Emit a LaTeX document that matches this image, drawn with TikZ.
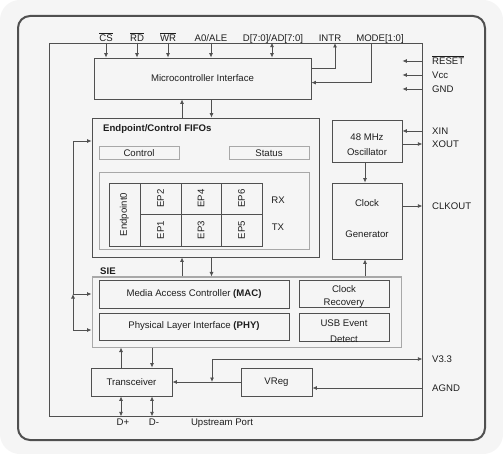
\documentclass[tikz,border=0pt]{standalone}
\usepackage{fontspec}
\usepackage{graphicx}
\setmainfont{Liberation Sans}
\usetikzlibrary{arrows.meta,calc}
\definecolor{ln}{HTML}{505050}
\definecolor{lt}{HTML}{A8A8A8}
\definecolor{bg}{HTML}{F5F5F5}
\definecolor{tx}{HTML}{1E1E1E}
\newcommand{\ovl}[1]{{\setbox0\hbox{#1}\rlap{\rule[\dimexpr\ht0+1pt\relax]{\wd0}{0.5pt}}\box0}}
\begin{document}
\begin{tikzpicture}[x=1pt,y=-1pt,
  every node/.style={font=\fontsize{9.6}{11}\selectfont, text=tx},
  box/.style={draw=ln, line width=0.8pt, inner sep=0pt},
  lbox/.style={draw=lt, line width=1pt, inner sep=0pt},
  arr/.style={draw=ln, line width=0.8pt, -{Latex[length=4.5pt,width=4pt]}},
  darr/.style={draw=ln, line width=0.8pt, {Latex[length=4.5pt,width=4pt]}-{Latex[length=4.5pt,width=4pt]}},
  wire/.style={draw=ln, line width=0.8pt},
  lab/.style={inner sep=0pt, text height=7pt, text depth=0pt},
  rpin/.style={lab, anchor=west}]
\fill[white] (0,0) rectangle (503,454);
\fill[bg, rounded corners=20pt] (0,0) rectangle (503,454);
\useasboundingbox (0,0) rectangle (503,454);
\draw[ln, line width=2pt, rounded corners=12pt] (18,16) rectangle (485,440);

% chip
\node[box, minimum width=373pt, minimum height=373pt] (chip) at (235.5,229.5) {};

% blocks
\node[box, minimum width=217pt, minimum height=41pt] (mcu) at (202.5,78.5) {Microcontroller Interface};
\node[box, minimum width=227pt, minimum height=139pt] (fifo) at (205.5,187.5) {};
\node[lab, anchor=west] (fifot) at (103,128) {\textbf{Endpoint/Control FIFOs}};
\node[lbox, minimum width=80pt, minimum height=13pt] (ctrl) at (139,153.5) {Control};
\node[lbox, minimum width=80pt, minimum height=13pt] (stat) at (269,153.5) {Status};
\node[lbox, minimum width=210pt, minimum height=77pt] (epo) at (204,211.5) {};
\node[box, minimum width=31pt, minimum height=63pt] (ep0) at (124.5,214.5) {\rotatebox{90}{Endpoint0}};
\node[box, minimum width=41pt, minimum height=31pt] (ep2) at (160.5,198.5) {\rotatebox{90}{EP2}};
\node[box, minimum width=41pt, minimum height=32pt] (ep1) at (160.5,230) {\rotatebox{90}{EP1}};
\node[box, minimum width=40pt, minimum height=31pt] (ep4) at (201,198.5) {\rotatebox{90}{EP4}};
\node[box, minimum width=40pt, minimum height=32pt] (ep3) at (201,230) {\rotatebox{90}{EP3}};
\node[box, minimum width=41pt, minimum height=31pt] (ep6) at (241.5,198.5) {\rotatebox{90}{EP6}};
\node[box, minimum width=41pt, minimum height=32pt] (ep5) at (241.5,230) {\rotatebox{90}{EP5}};
\node (rx) at (278,200) {RX};
\node (txl) at (278,227) {TX};

\node[box, minimum width=70pt, minimum height=42pt] (osc) at (367,141) {};
\node[align=center, font=\fontsize{9.6}{15}\selectfont] (osct) at (367,144.5) {48 MHz\\Oscillator};
\node[box, minimum width=70pt, minimum height=76pt] (cg) at (367,221) {};
\node[align=center, font=\fontsize{9.6}{31}\selectfont] (cgt) at (367,218.5) {Clock\\Generator};

\node[lbox, minimum width=309pt, minimum height=70pt] (sie) at (246.5,312) {};
\node[lab, anchor=west] (siet) at (100,271) {\textbf{SIE}};
\node[box, minimum width=190pt, minimum height=28pt] (mac) at (194,294) {Media Access Controller \textbf{(MAC)}};
\node[box, minimum width=190pt, minimum height=27pt] (phy) at (194,326.5) {Physical Layer Interface \textbf{(PHY)}};
\node[box, minimum width=90pt, minimum height=27pt] (crec) at (344,293.5) {};
\node[align=center, font=\fontsize{9.6}{13}\selectfont] (crect) at (344,296.5) {Clock\\Recovery};
\node[box, minimum width=90pt, minimum height=28pt] (usb) at (344,327) {};
\node[align=center, font=\fontsize{9.6}{16}\selectfont] (usbt) at (344,331) {USB Event\\Detect};

\node[box, minimum width=81pt, minimum height=28pt] (trx) at (131.5,382) {Transceiver};
\node[box, minimum width=71pt, minimum height=28pt] (vreg) at (276.5,382) {VReg};

% top pins
\node[lab] (cs) at (106,38) {\ovl{CS}};
\node[lab] (rd) at (137,38) {\ovl{RD}};
\node[lab] (wr) at (168,38) {\ovl{WR}};
\node[lab] (ale) at (211,38) {A0/ALE};
\node[lab] (dat) at (273,38) {D[7:0]/AD[7:0]};
\node[lab] (intr) at (330,38) {INTR};
\node[lab] (mode) at (380,38) {MODE[1:0]};
\draw[arr] (chip.north -| cs) -- (mcu.north -| cs);
\draw[arr] (chip.north -| rd) -- (mcu.north -| rd);
\draw[arr] (chip.north -| wr) -- (mcu.north -| wr);
\draw[arr] (chip.north -| ale) -- (mcu.north -| ale);
\coordinate (dx) at (272,0);
\draw[darr] (chip.north -| dx) -- (mcu.north -| dx);
\coordinate (intrp) at (335,43);
\draw[arr] ([yshift=-11pt]mcu.north east) -| (intrp);
\coordinate (modep) at (371,43);
\draw[arr] (modep) |- ([yshift=-25pt]mcu.north east);

% right pins
\node[rpin] (reset) at (432,61) {\ovl{RESET}};
\node[rpin] (vcc) at (432,75) {Vcc};
\node[rpin] (gnd) at (432,89) {GND};
\node[rpin] (xin) at (432,131) {XIN};
\node[rpin] (xout) at (432,144) {XOUT};
\node[rpin] (clkout) at (432,206) {CLKOUT};
\node[rpin] (v33) at (432,359) {V3.3};
\node[rpin] (agnd) at (432,388) {AGND};
\draw[arr] (chip.east |- reset.west) -- (osc.east |- reset.west);
\draw[arr] (chip.east |- vcc.west) -- (osc.east |- vcc.west);
\draw[arr] (chip.east |- gnd.west) -- (osc.east |- gnd.west);
\draw[arr] (chip.east |- xin.west) -- (osc.east |- xin.west);
\draw[arr] (osc.east |- xout.west) -- (chip.east |- xout.west);
\draw[arr] (cg.east |- clkout.west) -- (chip.east |- clkout.west);
\coordinate (vj) at (212,382);
\draw[darr] (vj) |- (chip.east |- v33.west);
\draw[arr] (chip.east |- agnd.west) -- (vreg.east |- agnd.west);
\draw[arr] (vreg.west) -- (trx.east);

% internal arrows
\coordinate (xa) at (182,0);
\coordinate (xb) at (211.5,0);
\coordinate (xc) at (365,0);
\coordinate (xd) at (121,0);
\coordinate (xe) at (152,0);
\draw[arr] (fifo.north -| xa) -- (mcu.south -| xa);
\draw[arr] (mcu.south -| xb) -- (fifo.north -| xb);
\draw[arr] (sie.north -| xa) -- (fifo.south -| xa);
\draw[arr] (fifo.south -| xb) -- (sie.north -| xb);
\draw[arr] (osc.south -| xc) -- (cg.north -| xc);
\draw[arr] (sie.north -| xc) -- (cg.south -| xc);
\draw[arr] (trx.north -| xd) -- (sie.south -| xd);
\draw[arr] (sie.south -| xe) -- (trx.north -| xe);
\draw[darr] (trx.south -| xd) -- (chip.south -| xd);
\draw[darr] (trx.south -| xe) -- (chip.south -| xe);

% left bus
\coordinate (ltop) at (73,141);
\coordinate (lmid) at (73,294);
\coordinate (lbot) at (73,330);
\draw[arr] (ltop) -- (fifo.west |- ltop);
\draw[arr] (lmid) -- (sie.west |- lmid);
\draw[arr] (lbot) -- (sie.west |- lbot);
\draw[wire] (lmid) -- (ltop);
\draw[arr] (lbot) -- (lmid);

% bottom pins
\node[lab] (dp) at (123,422) {D+};
\node[lab] (dm) at (154,422) {D-};
\node[lab] (up) at (222,422) {Upstream Port};
\end{tikzpicture}
\end{document}
